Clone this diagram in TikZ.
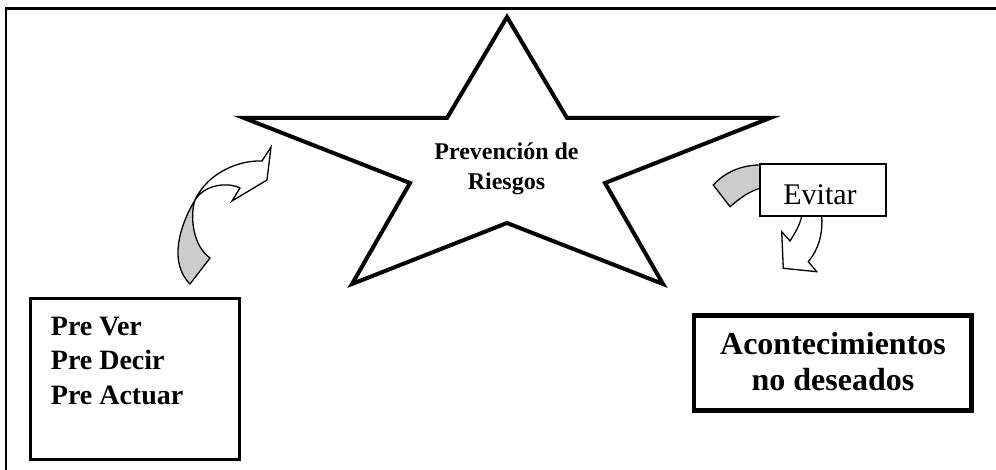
\documentclass[tikz,border=0pt]{standalone}
\usepackage{fontspec}
\setmainfont{Liberation Serif}
\definecolor{arrowgray}{HTML}{CCCCCC}
\tikzset{
  boxline/.style={draw=black, fill=white, inner sep=0pt},
  shapeline/.style={draw=black, line width=1.3, line join=miter},
  txt/.style={inner sep=0pt, anchor=base},
}
\begin{document}
\begin{tikzpicture}[x=1pt,y=-1pt]
\useasboundingbox (0,0) rectangle (996,470);
\begin{scope}
\clip (0,0) rectangle (996,470);
\draw[line width=2.5] (6,8.7) rectangle (1010,490);
\end{scope}

% star
\draw[line width=4, line join=miter, fill=white]
  (507,17) -- (567,118) -- (770,118) -- (605,183) -- (663,284)
  -- (507,223) -- (352,284) -- (410,183) -- (244,118) -- (447,118) -- cycle;
\node[txt, font=\fontsize{24}{28}\selectfont\bfseries] (star1) at (506.5,160) {Prevención de};
\node[txt, font=\fontsize{24}{28}\selectfont\bfseries] (star2) at (506.5,189.3) {Riesgos};

% left curved arrow: gray underside
\path[shapeline, fill=arrowgray]
  (195,200) .. controls (180,225) and (168,262) .. (190,284)
  -- (210,258) .. controls (192,245) and (190,215) .. cycle;
% white body
\path[shapeline, fill=white]
  (195,200) .. controls (208,172) and (240,160) .. (262,161)
  -- (271,147) -- (267,180) -- (232,201) -- (240,188)
  .. controls (228,182) and (205,184) .. cycle;

% right: gray tail behind Evitar box
\path[shapeline, fill=arrowgray]
  (766,165) -- (760,165) .. controls (742,165) and (725,172) .. (713.3,185)
  -- (730,206.7) .. controls (740,198) and (750,191) .. (760,188.3) -- (766,188.3) -- cycle;
% down arrow below Evitar box
\path[shapeline, fill=white]
  (802,210) -- (801.7,216) .. controls (800,225) and (795,233) .. (790,241)
  -- (781.7,231.7) -- (783.3,268.3) -- (816.7,271.7) -- (808.3,261.7)
  .. controls (818,250) and (823,235) .. (821.7,216) -- (821.7,210) -- cycle;

% Evitar box
\node[boxline, line width=1.3, minimum width=126, minimum height=52] (evbox) at (823,190) {};
\node[txt, font=\fontsize{30}{34}\selectfont] (evtxt) at (820,205) {Evitar};

% left box
\node[boxline, line width=3.3, minimum width=208.5, minimum height=161] (lbox) at (135,378.8) {};
\node[txt, anchor=base west, font=\fontsize{28}{32}\selectfont\bfseries] (l1) at (50.7,336) {Pre Ver};
\node[txt, anchor=base west, font=\fontsize{28}{32}\selectfont\bfseries] (l2) at (50.7,370) {Pre Decir};
\node[txt, anchor=base west, font=\fontsize{28}{32}\selectfont\bfseries] (l3) at (50.7,404) {Pre Actuar};

% right box
\node[boxline, line width=4.5, minimum width=277.7, minimum height=95] (rbox) at (832.85,363) {};
\node[txt, font=\fontsize{32}{36}\selectfont\bfseries] (r1) at (833,354) {Acontecimientos};
\node[txt, font=\fontsize{32}{36}\selectfont\bfseries] (r2) at (833,390) {no deseados};
\end{tikzpicture}
\end{document}
